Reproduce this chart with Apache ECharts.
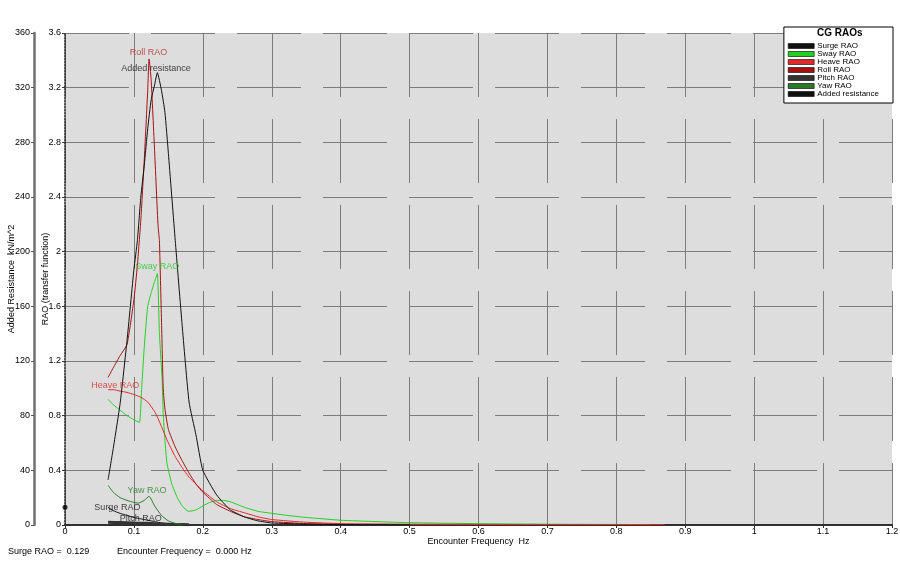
<!DOCTYPE html>
<html><head><meta charset="utf-8">
<script src="https://cdn.jsdelivr.net/npm/echarts@6/dist/echarts.min.js"></script>
<style>html,body{margin:0;padding:0;background:#fff}#c{width:900px;height:563px}</style>
</head><body><div id="c"></div>
<script>
// ---- data ----
var xTicks = [0,0.1,0.2,0.3,0.4,0.5,0.6,0.7,0.8,0.9,1,1.1,1.2];
var raoTicks = [0,0.4,0.8,1.2,1.6,2,2.4,2.8,3.2,3.6];
var resTicks = [0,40,80,120,160,200,240,280,320,360];

var surgeF = [0.0625,0.07,0.08,0.09,0.1,0.11,0.12,0.13,0.14,0.155,0.17];
var surgeV = [0.13,0.105,0.085,0.07,0.055,0.045,0.035,0.025,0.015,0.006,0.002];

var swayF = [0.0625,0.07,0.08,0.09,0.1,0.108,0.111,0.115,0.12,0.125,0.13,0.134,0.137,0.141,0.1425,0.145,0.148,0.155,0.163,0.17,0.179,0.19,0.2,0.21,0.22,0.23,0.24,0.26,0.28,0.3,0.34,0.4,0.45,0.5,0.6,0.7,0.8,0.85];
var swayV = [0.92,0.88,0.84,0.8,0.77,0.75,0.98,1.3,1.6,1.7,1.78,1.84,1.4,1.06,0.82,0.62,0.45,0.3,0.2,0.14,0.1,0.11,0.14,0.165,0.18,0.18,0.17,0.13,0.1,0.085,0.06,0.035,0.025,0.017,0.01,0.006,0.004,0.003];

var heaveF = [0.0625,0.07,0.08,0.09,0.1,0.11,0.12,0.13,0.135,0.14,0.15,0.16,0.17,0.18,0.19,0.2,0.22,0.24,0.26,0.28,0.3,0.35,0.4,0.5,0.6,0.7,0.8,0.87];
var heaveV = [0.99,0.99,0.98,0.97,0.955,0.935,0.9,0.83,0.78,0.72,0.6,0.5,0.42,0.35,0.3,0.25,0.17,0.12,0.09,0.06,0.04,0.02,0.01,0.006,0.004,0.003,0.003,0.003];

var rollF = [0.0625,0.07,0.08,0.09,0.1,0.105,0.11,0.115,0.12,0.122,0.125,0.13,0.135,0.137,0.14,0.1425,0.145,0.15,0.16,0.17,0.18,0.19,0.2,0.22,0.24,0.26,0.28,0.3,0.35,0.4];
var rollV = [1.08,1.15,1.24,1.32,1.65,1.9,2.23,2.67,3.18,3.41,3.26,2.74,2.19,2.08,1.5,1.0,0.85,0.7,0.57,0.47,0.38,0.3,0.24,0.15,0.1,0.06,0.04,0.025,0.01,0.005];

var pitchF = [0.0625,0.08,0.1,0.12,0.14,0.16,0.18];
var pitchV = [0.02,0.018,0.015,0.012,0.008,0.004,0.002];

var yawF = [0.0625,0.07,0.08,0.09,0.1,0.106,0.115,0.122,0.13,0.14,0.15,0.16,0.17];
var yawV = [0.29,0.24,0.2,0.18,0.165,0.16,0.18,0.21,0.14,0.07,0.03,0.012,0.005];

var resF = [0.0625,0.07,0.08,0.09,0.1,0.105,0.11,0.115,0.12,0.125,0.13,0.134,0.14,0.145,0.15,0.16,0.17,0.18,0.19,0.2,0.22,0.24,0.26,0.28,0.3,0.35,0.4,0.5];
var resV = [33,56,89,135,187,208,240,263,290,311,322,331,318,302,272,208,146,90,66,40,22,11,6,3,1.5,0.6,0.3,0.2];

var surgeAtZero = 0.129;

var curveLabels = ["Roll RAO","Added resistance","Sway RAO","Heave RAO","Yaw RAO","Surge RAO","Pitch RAO"];
var curveLabelF = [0.121,0.132,0.134,0.073,0.119,0.076,0.11];
var curveLabelV = [3.46,3.34,1.89,1.02,0.25,0.13,0.045];

// ---- styles ----
var colors = {
  "Surge RAO":"#111111","Sway RAO":"#22d022","Heave RAO":"#e02a2a","Roll RAO":"#a81010",
  "Pitch RAO":"#333333","Yaw RAO":"#2a7a2a","Added resistance":"#111111"
};
var labelColors = ["#b52a2a","#111111","#22c822","#d82a2a","#2a7a2a","#111111","#111111"];
var FONT = "Liberation Sans, Arial, sans-serif";

function pairs(f, v){ return f.map(function(x,i){ return [x, v[i]]; }); }

function lineSeries(name, f, v, yIdx, width){
  return {
    name:name, type:'line', xAxisIndex:0, yAxisIndex:yIdx, data:pairs(f,v),
    showSymbol:false, symbol:'none', smooth:0.15, animation:false,
    lineStyle:{color:colors[name], width:width||1}, itemStyle:{color:colors[name]},
    z:3
  };
}

var series = [
  lineSeries("Surge RAO", surgeF, surgeV, 0, 1),
  lineSeries("Sway RAO", swayF, swayV, 0, 1),
  lineSeries("Heave RAO", heaveF, heaveV, 0, 1),
  lineSeries("Roll RAO", rollF, rollV, 0, 1),
  lineSeries("Pitch RAO", pitchF, pitchV, 0, 3),
  lineSeries("Yaw RAO", yawF, yawV, 0, 1),
  lineSeries("Added resistance", resF, resV, 1, 1)
];
series.push({
  name:'_labels', type:'scatter', xAxisIndex:0, yAxisIndex:0, symbolSize:1, silent:true, animation:false,
  itemStyle:{color:'rgba(0,0,0,0)'},
  data: curveLabels.map(function(t,i){
    return {value:[curveLabelF[i], curveLabelV[i]],
      label:{show:true, position:'inside', formatter:t, color:labelColors[i], fontSize:9, fontFamily:FONT}};
  }),
  z:5
});
series.push({
  name:'_dot', type:'scatter', xAxisIndex:0, yAxisIndex:0, symbolSize:5, animation:false,
  itemStyle:{color:'#000'}, data:[[0, surgeAtZero]], z:6
});

var gridDash = {color:'#7c7c7c', width:1, type:[64,22]};

var option = {
  backgroundColor:'#ffffff',
  animation:false,
  textStyle:{fontFamily:FONT},
  grid:{left:65, right:8, top:33, bottom:38, show:true, backgroundColor:'#dddddd', borderWidth:0,
        containLabel:false, outerBoundsMode:'none'},
  legend:{
    data:["Surge RAO","Sway RAO","Heave RAO","Roll RAO","Pitch RAO","Yaw RAO","Added resistance"],
    orient:'vertical', right:7, top:27, width:85,
    icon:'rect', itemWidth:26, itemHeight:5, itemGap:0,
    backgroundColor:'#ffffff', borderColor:'#000', borderWidth:1, borderRadius:0,
    padding:[15,14,5,4],
    itemStyle:{borderColor:'#000', borderWidth:0.6},
    textStyle:{fontSize:8, lineHeight:7.2, color:'#000', fontFamily:FONT, padding:[0,0,0,-2]},
    selectedMode:false
  },
  graphic:[
    {type:'text', left:817, top:28, style:{text:'CG RAOs', font:'bold 10px '+FONT, fill:'#000'}, z:100},
    {type:'text', left:8, top:547, style:{text:'Surge RAO =  ' + surgeAtZero.toFixed(3), font:'9px '+FONT, fill:'#000'}},
    {type:'text', left:117, top:547, style:{text:'Encounter Frequency =  0.000 Hz', font:'9px '+FONT, fill:'#000'}}
  ],
  xAxis:[{
    type:'value', min:xTicks[0], max:xTicks[xTicks.length-1], interval:0.1,
    name:'Encounter Frequency  Hz', nameLocation:'middle', nameGap:12, nameMoveOverlap:false,
    nameTextStyle:{fontSize:9, color:'#000', fontFamily:FONT},
    axisLine:{show:true, lineStyle:{color:'#303030', width:2}},
    axisTick:{show:true, length:3, lineStyle:{color:'#303030'}},
    axisLabel:{fontSize:9, color:'#000', margin:2, fontFamily:FONT},
    splitLine:{show:true, lineStyle:gridDash}
  }],
  yAxis:[{
    type:'value', min:raoTicks[0], max:raoTicks[raoTicks.length-1], interval:0.4, position:'left', offset:0,
    name:'RAO (transfer function)', nameLocation:'middle', nameGap:15, nameRotate:90, nameMoveOverlap:false,
    nameTextStyle:{fontSize:9, color:'#000', fontFamily:FONT},
    axisLine:{show:true, lineStyle:{color:'#222', width:1.5, type:[1.5,1.5]}},
    axisTick:{show:true, length:3, lineStyle:{color:'#333'}},
    axisLabel:{fontSize:9, color:'#000', margin:4, fontFamily:FONT},
    splitLine:{show:true, lineStyle:gridDash}
  },{
    type:'value', min:resTicks[0], max:resTicks[resTicks.length-1], interval:40, position:'left', offset:31,
    name:'Added Resistance  kN/m^2', nameLocation:'middle', nameGap:18, nameRotate:90, nameMoveOverlap:false,
    nameTextStyle:{fontSize:9, color:'#000', fontFamily:FONT},
    axisLine:{show:true, lineStyle:{color:'#707070', width:2.5}},
    axisTick:{show:true, length:3, lineStyle:{color:'#555'}},
    axisLabel:{fontSize:9, color:'#000', margin:4, fontFamily:FONT},
    splitLine:{show:false}
  }],
  series:series
};
var chart = echarts.init(document.getElementById('c'), null, {renderer:'canvas'});
chart.setOption(option);
</script></body></html>
